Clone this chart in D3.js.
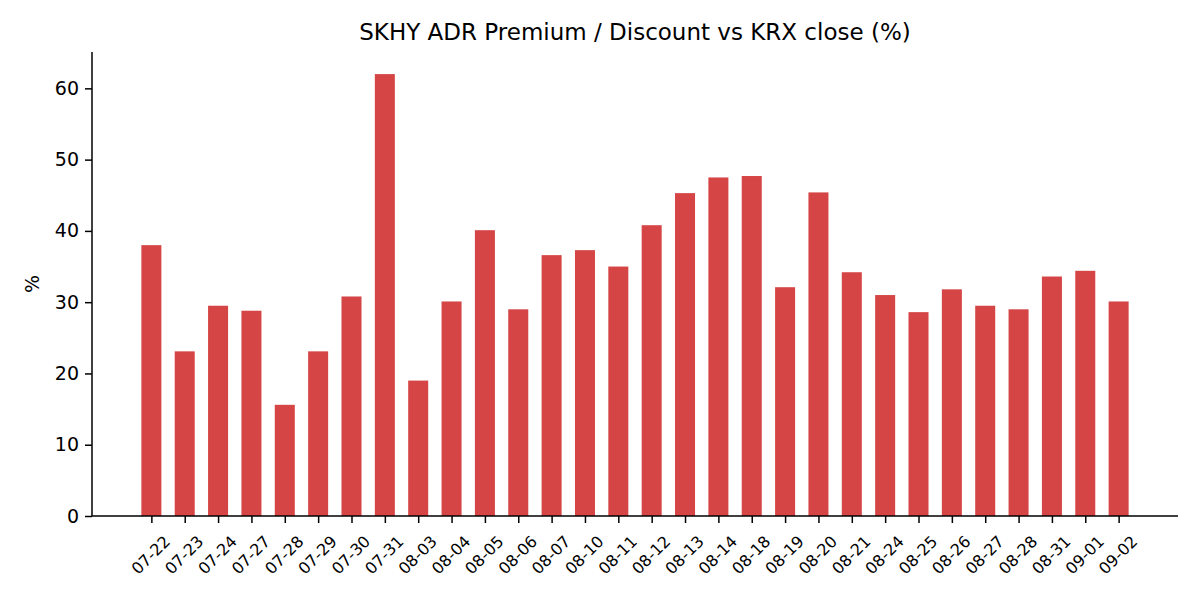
<!DOCTYPE html>
<html>
<head>
<meta charset="utf-8">
<script src="https://cdn.jsdelivr.net/npm/d3@7"></script>
<style>
  body { margin: 0; background: #fff; }
  svg { display: block; font-family: "DejaVu Sans", sans-serif; }
</style>
</head>
<body>
<svg></svg>
<script>
var dates = ["07-22", "07-23", "07-24", "07-27", "07-28", "07-29", "07-30", "07-31",
    "08-03", "08-04", "08-05", "08-06", "08-07", "08-10", "08-11", "08-12", "08-13",
    "08-14", "08-18", "08-19", "08-20", "08-21", "08-24", "08-25", "08-26", "08-27",
    "08-28", "08-31", "09-01", "09-02"];
var premium = [38.0, 23.1, 29.5, 28.8, 15.6, 23.1, 30.8, 62.0,
    19.0, 30.1, 40.1, 29.0, 36.6, 37.3, 35.0, 40.8, 45.3,
    47.5, 47.7, 32.1, 45.4, 34.2, 31.0, 28.6, 31.8, 29.5,
    29.0, 33.6, 34.4, 30.1];
var yTicks = [0, 10, 20, 30, 40, 50, 60];

var viewWidth = 1200;
var viewHeight = 600;
var margin = {top: 52, right: 22, bottom: 84, left: 92};
var width = viewWidth - margin.left - margin.right;
var height = viewHeight - margin.top - margin.bottom;

var svg = d3.select("svg")
    .attr("width", viewWidth)
    .attr("height", viewHeight)
    .append("g")
    .attr("transform", "translate(" + margin.left + "," + margin.top + ")");

function drawBars() {
    var n = dates.length;
    // matplotlib style padding: bar half width + 5% margin
    var span = (n - 1) + 0.6;
    var pad = 0.3 + span * 0.05;

    var x = d3.scaleLinear()
        .domain([-pad, n - 1 + pad])
        .range([0, width]);

    var y = d3.scaleLinear()
        .domain([0, d3.max(premium) * 1.05])
        .range([height, 0]);

    var barW = x(0.6) - x(0);

    svg.selectAll("rect.bar")
        .data(premium)
        .enter()
        .append("rect")
          .attr("class", "bar")
          .attr("x", function(d, i) { return x(i) - barW / 2; })
          .attr("y", function(d) { return y(d); })
          .attr("width", barW)
          .attr("height", function(d) { return height - y(d); })
          .style("fill", "#d64545");

    // y axis
    var yAxis = svg.append("g")
        .call(d3.axisLeft(y).tickValues(yTicks).tickSize(7).tickPadding(6).tickFormat(d3.format("d")));
    yAxis.select(".domain").attr("stroke", "#000").attr("stroke-width", 1.5)
        .attr("d", "M0," + height + "V0");
    yAxis.selectAll(".tick line").attr("stroke", "#000").attr("stroke-width", 1.5);
    yAxis.selectAll(".tick text")
        .style("font-family", "DejaVu Sans")
        .style("font-size", "19px")
        .attr("fill", "#000");

    // x axis
    var xAxis = svg.append("g")
        .attr("transform", "translate(0," + height + ")")
        .call(d3.axisBottom(x).tickValues(d3.range(n)).tickSize(7).tickFormat(function(i) { return dates[i]; }));
    xAxis.select(".domain").attr("stroke", "#000").attr("stroke-width", 1.5)
        .attr("d", "M0,0H" + width);
    xAxis.selectAll(".tick line").attr("stroke", "#000").attr("stroke-width", 1.5);
    xAxis.selectAll(".tick text")
        .style("font-family", "DejaVu Sans")
        .style("font-size", "16px")
        .attr("fill", "#000")
        .attr("text-anchor", "middle")
        .attr("dominant-baseline", "central")
        .attr("y", 0)
        .attr("dy", null)
        .attr("transform", "translate(-1,39) rotate(-45)");

    // title
    svg.append("text")
        .attr("x", width / 2)
        .attr("y", -12)
        .style("text-anchor", "middle")
        .style("font-size", "23px")
        .style("fill", "#000")
        .text("SKHY ADR Premium / Discount vs KRX close (%)");

    // y label
    svg.append("text")
        .attr("transform", "translate(" + (32 - margin.left) + "," + (height / 2) + ") rotate(-90)")
        .attr("dominant-baseline", "central")
        .style("text-anchor", "middle")
        .style("font-size", "19px")
        .style("fill", "#000")
        .text("%");
}

drawBars();
</script>
</body>
</html>
